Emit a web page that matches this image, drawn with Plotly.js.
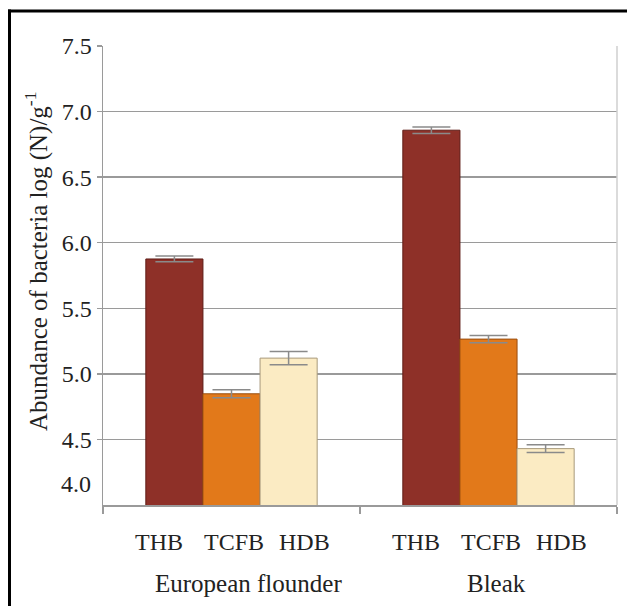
<!DOCTYPE html>
<html>
<head>
<meta charset="utf-8">
<script src="https://cdn.plot.ly/plotly-3.0.1.min.js"></script>
<style>
  html, body { margin: 0; padding: 0; background: #ffffff; }
  #chart { width: 627px; height: 606px; }
</style>
</head>
<body>
<div id="chart"></div>
<script>
// ---- data ----
const groups = ["European flounder", "Bleak"];
const seriesNames = ["THB", "TCFB", "HDB"];
const thbValues = [5.876, 6.858];
const thbErrors = [0.022, 0.025];
const tcfbValues = [4.848, 5.265];
const tcfbErrors = [0.03, 0.027];
const hdbValues = [5.12, 4.43];
const hdbErrors = [0.05, 0.03];
const yTickVals = [4.5, 5.0, 5.5, 6.0, 6.5, 7.0, 7.5];
const yTickText = ["4.5", "5.0", "5.5", "6.0", "6.5", "7.0", "7.5"];
const yBottomLabel = "4.0";
const yRange = [4.0, 7.5];
const yTitle = "Abundance of bacteria log (N)/g<sup>-1</sup>";

// ---- style ----
const W = 627, H = 606;
const M = { l: 103, r: 10, t: 46, b: 101 };
const PW = W - M.l - M.r, PH = H - M.t - M.b;
const px2x = p => (p - M.l) / PW;
const px2y = p => (M.t + PH - p) / PH;
const FONT = "'Liberation Serif', 'Times New Roman', serif";
const TXT = "#222222";
const GRID = "#9a9a9a";
const fills = ["#8e3028", "#e2791a", "#fbebc3"];
const edges = ["#5e1c16", "#9a4e10", "#a89a7c"];
const subLabelOffsets = [-0.283, 0.01, 0.283];
const groupLabelShift = [17, 8];

const vals = [thbValues, tcfbValues, hdbValues];
const errs = [thbErrors, tcfbErrors, hdbErrors];

const traces = seriesNames.map((name, i) => ({
  type: "bar",
  name: name,
  x: groups,
  y: vals[i],
  marker: { color: fills[i], line: { color: edges[i], width: 1 } },
  error_y: { type: "data", array: errs[i], visible: true, color: "#8a8a8a", thickness: 1.5, width: 19 },
  hoverinfo: "skip"
}));

const annotations = [];
groups.forEach((g, gi) => {
  seriesNames.forEach((s, si) => {
    annotations.push({
      xref: "x", yref: "paper", x: gi + subLabelOffsets[si], y: px2y(542),
      xanchor: "center", yanchor: "middle", text: s, showarrow: false,
      font: { family: FONT, size: 24, color: TXT }
    });
  });
  annotations.push({
    xref: "x", yref: "paper", x: gi, y: px2y(583), xshift: groupLabelShift[gi],
    xanchor: "center", yanchor: "middle", text: g, showarrow: false,
    font: { family: FONT, size: 25, color: TXT }
  });
});
annotations.push({
  xref: "paper", yref: "paper", x: px2x(93), y: px2y(484),
  xanchor: "right", yanchor: "middle", text: yBottomLabel, showarrow: false,
  font: { family: FONT, size: 24, color: TXT }
});
annotations.push({
  xref: "paper", yref: "paper", x: px2x(36), y: px2y(262),
  xanchor: "center", yanchor: "middle", textangle: -90, text: yTitle, showarrow: false,
  font: { family: FONT, size: 25, color: TXT }
});

const shapes = [
  { type: "line", xref: "paper", yref: "paper", x0: 1, x1: 1, y0: 0, y1: 1,
    line: { color: "#cfcfcf", width: 1.5 } },
  { type: "line", xref: "paper", yref: "paper", x0: px2x(9.5), x1: px2x(9.5), y0: px2y(9.5), y1: px2y(H + 5),
    line: { color: "#000000", width: 3 } },
  { type: "line", xref: "paper", yref: "paper", x0: px2x(8), x1: px2x(W + 5), y0: px2y(11), y1: px2y(11),
    line: { color: "#000000", width: 3 } }
];

const layout = {
  width: W, height: H,
  margin: M,
  paper_bgcolor: "#ffffff", plot_bgcolor: "#ffffff",
  barmode: "group", bargap: 1/3, bargroupgap: 0,
  showlegend: false,
  font: { family: FONT, size: 24, color: TXT },
  xaxis: {
    type: "category", range: [-0.5, 1.5], tickson: "boundaries",
    ticks: "outside", ticklen: 7, tickwidth: 1.5, tickcolor: GRID,
    showticklabels: false, showgrid: false, zeroline: false,
    showline: true, linecolor: GRID, linewidth: 1.5
  },
  yaxis: {
    range: yRange, tickvals: yTickVals, ticktext: yTickText,
    ticks: "outside", ticklen: 5, tickwidth: 1.5, tickcolor: GRID,
    tickfont: { family: FONT, size: 24, color: TXT },
    showgrid: true, gridcolor: GRID, gridwidth: 1.5, zeroline: false,
    showline: true, linecolor: GRID, linewidth: 1.5
  },
  annotations: annotations,
  shapes: shapes
};

Plotly.newPlot("chart", traces, layout, { displayModeBar: false, staticPlot: true });
</script>
</body>
</html>
